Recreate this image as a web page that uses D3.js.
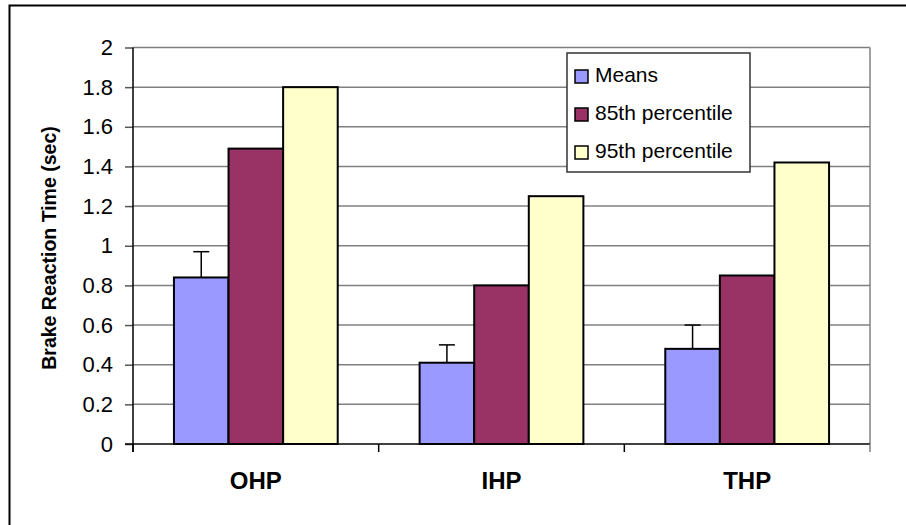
<!DOCTYPE html>
<html><head><meta charset="utf-8">
<script src="https://cdn.jsdelivr.net/npm/d3@7"></script>
<style>body{margin:0;background:#fff;}svg{display:block;font-family:"Liberation Sans",Arial,sans-serif;}</style>
</head><body>
<svg id="c" width="906" height="525"></svg>
<script>
const categories = ["OHP", "IHP", "THP"];
const seriesNames = ["Means", "85th percentile", "95th percentile"];
const means = [0.84, 0.41, 0.48];
const meansErr = [0.13, 0.09, 0.12];
const p85 = [1.49, 0.80, 0.85];
const p95 = [1.80, 1.25, 1.42];
const yTicks = [0, 0.2, 0.4, 0.6, 0.8, 1, 1.2, 1.4, 1.6, 1.8, 2];
const colors = ["#9999FF", "#993366", "#FFFFCC"];
const yTitle = "Brake Reaction Time (sec)";

const seriesValues = [means, p85, p95];
const svg = d3.select("#c");
const L = 133, R = 870, T = 47.5, B = 444;

// outer border
svg.append("rect").attr("x", 9.5).attr("y", 5.5).attr("width", 1000).attr("height", 1000)
  .attr("fill", "none").attr("stroke", "#000").attr("stroke-width", 2);

const x0 = d3.scaleBand().domain(categories).range([L, R]).paddingInner(0).paddingOuter(0);
const x1 = d3.scaleBand().domain(seriesNames).range([0, x0.bandwidth()]).paddingInner(0).paddingOuter(0.75);
const y = d3.scaleLinear().domain([0, 2]).range([B, T]);

// gridlines
svg.append("g").selectAll("line").data(yTicks.filter(d => d > 0)).join("line")
  .attr("x1", L).attr("x2", R).attr("y1", d => y(d)).attr("y2", d => y(d))
  .attr("stroke", "#808080").attr("stroke-width", 1.5);
// right border of plot area
svg.append("line").attr("x1", R).attr("x2", R).attr("y1", T).attr("y2", B)
  .attr("stroke", "#808080").attr("stroke-width", 1.5);

// bars
const bars = [];
categories.forEach((c, i) => seriesNames.forEach((s, j) => bars.push({c, s, j, v: seriesValues[j][i]})));
svg.append("g").selectAll("rect").data(bars).join("rect")
  .attr("x", d => x0(d.c) + x1(d.s)).attr("width", x1.bandwidth())
  .attr("y", d => y(d.v)).attr("height", d => y(0) - y(d.v))
  .attr("fill", d => colors[d.j]).attr("stroke", "#000").attr("stroke-width", 2);

// error bars (upper only)
const eg = svg.append("g").attr("stroke", "#000").attr("stroke-width", 1.5);
categories.forEach((c, i) => {
  const cx = x0(c) + x1(seriesNames[0]) + x1.bandwidth() / 2;
  eg.append("line").attr("x1", cx).attr("x2", cx).attr("y1", y(means[i])).attr("y2", y(means[i] + meansErr[i]));
  eg.append("line").attr("x1", cx - 8).attr("x2", cx + 8).attr("y1", y(means[i] + meansErr[i])).attr("y2", y(means[i] + meansErr[i]));
});

// y axis
const yAxis = d3.axisLeft(y).tickValues(yTicks).tickFormat(d3.format("~g")).tickSize(8).tickPadding(12);
const ya = svg.append("g").attr("transform", `translate(${L},0)`).call(yAxis);
ya.select(".domain").remove();
ya.selectAll(".tick line").attr("stroke", "#555").attr("stroke-width", 1.5);
ya.selectAll("text").attr("font-size", 22).attr("fill", "#000").attr("font-family", "Liberation Sans, Arial, sans-serif");
svg.append("line").attr("x1", L).attr("x2", L).attr("y1", T).attr("y2", B + 8).attr("stroke", "#000").attr("stroke-width", 1.5);

// x axis
svg.append("line").attr("x1", L - 8).attr("x2", R).attr("y1", B).attr("y2", B).attr("stroke", "#000").attr("stroke-width", 1.5);
const bounds = categories.map(c => x0(c)).concat([R]);
svg.append("g").selectAll("line").data(bounds).join("line")
  .attr("x1", d => d).attr("x2", d => d).attr("y1", B).attr("y2", B + 8)
  .attr("stroke", (d, i) => i === bounds.length - 1 ? "#808080" : "#000").attr("stroke-width", 1.5);
svg.append("g").selectAll("text").data(categories).join("text")
  .attr("x", d => x0(d) + x0.bandwidth() / 2).attr("y", 489)
  .attr("text-anchor", "middle").attr("font-weight", "bold").attr("font-size", 24).text(d => d);

// y title
svg.append("text").attr("transform", "translate(56,248) rotate(-90)")
  .attr("text-anchor", "middle").attr("font-weight", "bold").attr("font-size", 19.5).text(yTitle);

// legend
const lg = svg.append("g");
lg.append("rect").attr("x", 567).attr("y", 53).attr("width", 183).attr("height", 119)
  .attr("fill", "#fff").attr("stroke", "#333").attr("stroke-width", 1.5);
seriesNames.forEach((s, j) => {
  const by = 82 + j * 38;
  lg.append("rect").attr("x", 575).attr("y", by - 12).attr("width", 13).attr("height", 13)
    .attr("fill", colors[j]).attr("stroke", "#000").attr("stroke-width", 1.5);
  lg.append("text").attr("x", 595).attr("y", by).attr("font-size", 21).text(s);
});
</script>
</body></html>
